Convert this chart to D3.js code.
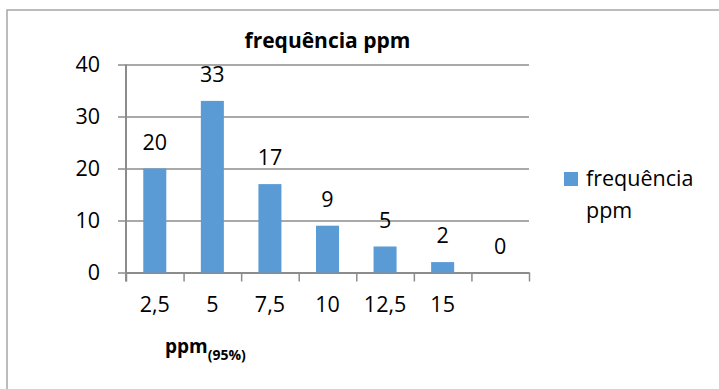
<!DOCTYPE html>
<html lang="pt">
<head>
    <meta charset="utf-8">
    <title>frequência ppm</title>
    <script src="https://cdn.jsdelivr.net/npm/d3@7"></script>
    <style>
        body { margin: 0; background: #fff; }
        svg { display: block; font-family: 'Open Sans', sans-serif; }
    </style>
</head>
<body>
    <svg></svg>
<script>

    // chart data
    const categories = ['2,5', '5', '7,5', '10', '12,5', '15', ''];
    const values = [20, 33, 17, 9, 5, 2, 0];
    const yTicks = [0, 10, 20, 30, 40];
    const seriesName = 'frequência ppm';

    const width = 719, height = 389;
    const plot = { left: 126, right: 529, top: 64.5, bottom: 272.5 };
    const barColor = '#5B9BD5';
    const gridColor = '#8c8c8c';

    let svg = d3.select('svg')
        .attr('width', width)
        .attr('height', height);

    // outer chart border (only top/left visible)
    svg.append('rect')
        .attr('x', 7)
        .attr('y', 10)
        .attr('width', 900)
        .attr('height', 600)
        .attr('fill', 'none')
        .attr('stroke', '#a6a6a6')
        .attr('stroke-width', 1.5);

    let x = d3.scaleBand()
        .domain(categories.map((c, i) => i))
        .range([plot.left, plot.right])
        .paddingInner(0.6)
        .paddingOuter(0.3);

    let y = d3.scaleLinear()
        .domain([0, 40])
        .range([plot.bottom, plot.top]);

    // y axis with gridlines
    let yAxis = svg.append('g')
        .attr('transform', `translate(${plot.left},0)`)
        .call(d3.axisLeft(y)
            .tickValues(yTicks)
            .tickSize(-(plot.right - plot.left))
            .tickPadding(26));
    yAxis.select('.domain').remove();
    yAxis.selectAll('.tick line')
        .attr('x1', -8)
        .attr('stroke', gridColor)
        .attr('stroke-width', 1.5);
    yAxis.selectAll('.tick text')
        .attr('fill', '#000')
        .style('font-size', '21.5px')
        .style('font-family', "'Open Sans', sans-serif");

    // category boundary ticks
    let xEdge = d3.scaleLinear()
        .domain([0, categories.length])
        .range([plot.left, plot.right]);
    let xTickAxis = svg.append('g')
        .attr('transform', `translate(0,${plot.bottom})`)
        .call(d3.axisBottom(xEdge)
            .tickValues(d3.range(categories.length + 1))
            .tickFormat('')
            .tickSize(9)
            .tickSizeOuter(0));
    xTickAxis.select('.domain')
        .attr('stroke', gridColor)
        .attr('stroke-width', 2);
    xTickAxis.selectAll('.tick line')
        .attr('stroke', gridColor)
        .attr('stroke-width', 1.5);

    // category labels
    let xAxis = svg.append('g')
        .attr('transform', `translate(0,${plot.bottom})`)
        .call(d3.axisBottom(x)
            .tickFormat(i => categories[i])
            .tickSize(0)
            .tickPadding(24));
    xAxis.select('.domain').remove();
    xAxis.selectAll('.tick text')
        .attr('fill', '#000')
        .style('font-size', '21.5px')
        .style('font-family', "'Open Sans', sans-serif");

    // y axis line
    svg.append('line')
        .attr('x1', plot.left)
        .attr('x2', plot.left)
        .attr('y1', plot.top)
        .attr('y2', plot.bottom + 9)
        .attr('stroke', gridColor)
        .attr('stroke-width', 2);

    // bars
    svg.append('g')
        .selectAll('rect')
        .data(values)
        .enter()
        .append('rect')
        .attr('x', (d, i) => x(i))
        .attr('y', d => y(d))
        .attr('width', x.bandwidth())
        .attr('height', d => y(0) - y(d))
        .attr('fill', barColor);

    // data labels
    svg.append('g')
        .selectAll('text')
        .data(values)
        .enter()
        .append('text')
        .attr('x', (d, i) => x(i) + x.bandwidth() / 2)
        .attr('y', d => y(d) - 19)
        .attr('text-anchor', 'middle')
        .style('font-size', '21.5px')
        .text(d => d);

    // title
    svg.append('text')
        .attr('x', (plot.left + plot.right) / 2)
        .attr('y', 48)
        .attr('text-anchor', 'middle')
        .style('font-size', '21px')
        .style('font-weight', 'bold')
        .text(seriesName);

    // x axis title with subscript
    let xTitle = svg.append('text')
        .attr('x', 165)
        .attr('y', 353)
        .style('font-weight', 'bold');
    xTitle.append('tspan')
        .style('font-size', '19px')
        .text('ppm');
    xTitle.append('tspan')
        .attr('dy', 7)
        .style('font-size', '14px')
        .text('(95%)');

    // legend
    let legend = svg.append('g');
    legend.append('rect')
        .attr('x', 564)
        .attr('y', 172)
        .attr('width', 14)
        .attr('height', 14)
        .attr('fill', barColor);
    legend.append('text')
        .attr('x', 586)
        .attr('y', 186)
        .style('font-size', '21.5px')
        .text('frequência');
    legend.append('text')
        .attr('x', 586)
        .attr('y', 218)
        .style('font-size', '21.5px')
        .text('ppm');

</script>
</body>
</html>
